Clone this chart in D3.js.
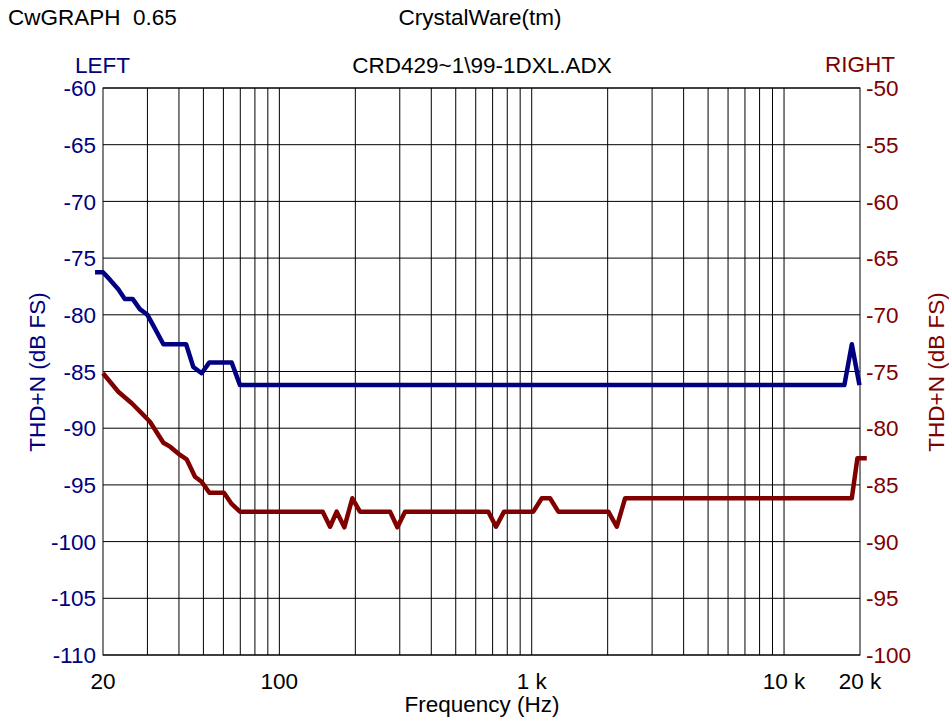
<!DOCTYPE html>
<html>
<head>
    <meta charset="utf-8">
    <title>CwGRAPH THD+N</title>
    <script src="https://d3js.org/d3.v7.min.js"></script>
    <style>
        body { margin: 0; background: white; }
        text { font-family: "Liberation Sans", Arial, sans-serif; font-size: 22.5px; }
        .grid { stroke: black; stroke-width: 1; fill: none; }
        .trace { fill: none; stroke-width: 4.5; stroke-linejoin: round; stroke-linecap: butt; }
    </style>
</head>
<body>
    <svg width="949" height="721"></svg>
    <script>
        // left channel (blue, left axis)
        const leftFreq = [18.6, 20, 21.3, 23.0, 24.4, 26.2, 28.0, 30.0, 32.1, 34.7, 42.7, 45.6, 49.2, 52.8, 64.7, 69.8, 17340, 18560, 19900];
        const leftDb = [-76.25, -76.25, -76.9, -77.75, -78.6, -78.6, -79.5, -80.0, -81.2, -82.6, -82.6, -84.6, -85.15, -84.2, -84.2, -86.2, -86.2, -82.6, -86.2];

        // right channel (red, right axis)
        const rightFreq = [20, 23.0, 26.0, 28.5, 30.7, 34.7, 36.9, 40.4, 42.9, 46.3, 49.2, 52.8, 60.3, 64.7, 69.8,
            148.5, 158.8, 168.7, 180.9, 194.6, 208.7, 274.5, 293.5, 314.8, 673, 722, 777, 1015, 1096, 1182, 1275,
            2013, 2174, 2344, 18560, 19530, 21280];
        const rightDb = [-75.16, -76.78, -77.8, -78.69, -79.43, -81.28, -81.63, -82.36, -82.74, -84.28, -84.72, -85.69, -85.69, -86.68, -87.36,
            -87.36, -88.69, -87.36, -88.74, -86.18, -87.36, -87.36, -88.74, -87.36, -87.36, -88.69, -87.36, -87.36, -86.18, -86.18, -87.36,
            -87.36, -88.69, -86.18, -86.18, -82.65, -82.65];

        const leftTicks = [-60, -65, -70, -75, -80, -85, -90, -95, -100, -105, -110];
        const rightTicks = [-50, -55, -60, -65, -70, -75, -80, -85, -90, -95, -100];
        const xTickVals = [20, 100, 1000, 10000, 20000];
        const xTickLabels = ["20", "100", "1 k", "10 k", "20 k"];
        const xGrid = [30, 40, 50, 60, 70, 80, 90, 100, 200, 300, 400, 500, 600, 700, 800, 900,
            1000, 2000, 3000, 4000, 5000, 6000, 7000, 8000, 9000, 10000];

        const blue = "#000080", red = "#800000";
        const L = 103, R = 860, T = 88, B = 655;

        const svg = d3.select("svg");
        const x = d3.scaleLog().domain([20, 20000]).range([L, R]);
        const yL = d3.scaleLinear().domain([-110, -60]).range([B, T]);
        const yR = d3.scaleLinear().domain([-100, -50]).range([B, T]);

        // grid
        svg.append("g").selectAll("line").data(xGrid).enter().append("line")
            .attr("class", "grid")
            .attr("x1", d => x(d)).attr("x2", d => x(d))
            .attr("y1", T).attr("y2", B);
        svg.append("g").selectAll("line").data(leftTicks).enter().append("line")
            .attr("class", "grid")
            .attr("x1", L).attr("x2", R)
            .attr("y1", d => yL(d)).attr("y2", d => yL(d));
        svg.append("rect").attr("class", "grid")
            .attr("x", L).attr("y", T).attr("width", R - L).attr("height", B - T);

        // tick labels
        svg.append("g").selectAll("text").data(leftTicks).enter().append("text")
            .attr("x", 96).attr("y", d => yL(d)).attr("dy", "0.36em")
            .attr("text-anchor", "end").attr("fill", blue).text(d => d);
        svg.append("g").selectAll("text").data(rightTicks).enter().append("text")
            .attr("x", 866).attr("y", d => yR(d)).attr("dy", "0.36em")
            .attr("fill", red).text(d => d);
        svg.append("g").selectAll("text").data(xTickVals).enter().append("text")
            .attr("x", d => x(d)).attr("y", 689)
            .attr("text-anchor", "middle").text((d, i) => xTickLabels[i]);

        // titles
        svg.append("text").attr("x", 8).attr("y", 25).attr("xml:space", "preserve").text("CwGRAPH  0.65");
        svg.append("text").attr("x", 480).attr("y", 25).attr("text-anchor", "middle").text("CrystalWare(tm)");
        svg.append("text").attr("x", 75).attr("y", 73).attr("fill", blue).text("LEFT");
        svg.append("text").attr("x", 482).attr("y", 73).attr("text-anchor", "middle").text("CRD429~1\\99-1DXL.ADX");
        svg.append("text").attr("x", 895).attr("y", 72).attr("text-anchor", "end").attr("fill", red).text("RIGHT");
        svg.append("text").attr("x", 482).attr("y", 712).attr("text-anchor", "middle").text("Frequency (Hz)");
        svg.append("text").attr("transform", "translate(45,372) rotate(-90)")
            .attr("text-anchor", "middle").attr("fill", blue).text("THD+N (dB FS)");
        svg.append("text").attr("transform", "translate(944,372) rotate(-90)")
            .attr("text-anchor", "middle").attr("fill", red).text("THD+N (dB FS)");

        // traces
        const lineL = d3.line().x(d => x(d[0])).y(d => yL(d[1]));
        const lineR = d3.line().x(d => x(d[0])).y(d => yR(d[1]));
        svg.append("path").datum(d3.zip(rightFreq, rightDb))
            .attr("class", "trace").attr("stroke", red).attr("d", lineR);
        svg.append("path").datum(d3.zip(leftFreq, leftDb))
            .attr("class", "trace").attr("stroke", blue).attr("d", lineL);
    </script>
</body>
</html>
